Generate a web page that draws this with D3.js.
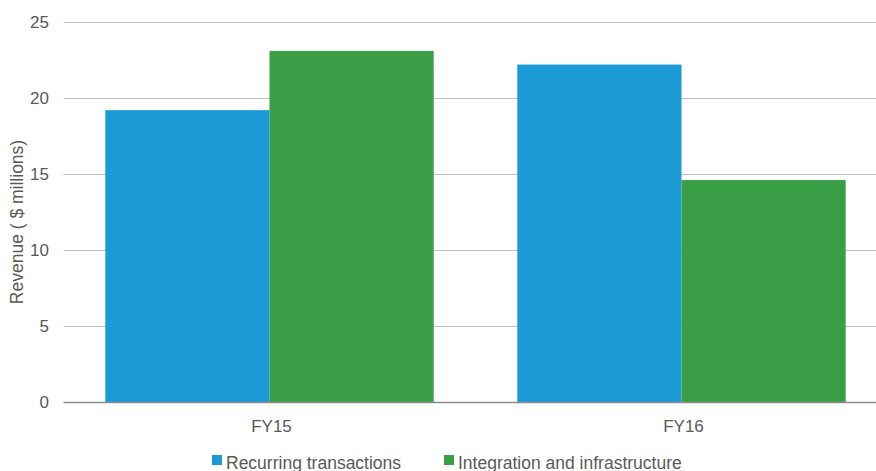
<!DOCTYPE html>
<html>
<head>
<meta charset="utf-8">
<script src="https://cdn.jsdelivr.net/npm/d3@7"></script>
<style>
  html, body { margin: 0; padding: 0; background: #ffffff; }
  svg { display: block; }
  text { font-family: "Liberation Sans", Arial, sans-serif; fill: #595959; }
</style>
</head>
<body>
<svg id="chart" width="876" height="471"></svg>
<script>
// Revenue by fiscal year, split into two revenue streams
const categories = ["FY15", "FY16"];
const seriesNames = ["Recurring transactions", "Integration and infrastructure"];
const recurring = [19.2, 22.2];
const integration = [23.1, 14.6];
const yTicks = [0, 5, 10, 15, 20, 25];
const seriesColors = ["#1b9ad6", "#3a9e47"];

const rows = categories.map((c, i) => ({ category: c, values: [recurring[i], integration[i]] }));

const svg = d3.select("#chart");
const W = 876, H = 471;
const plot = { left: 63.5, right: 887.5, top: 22, bottom: 402 };

const x = d3.scaleBand().domain(categories).range([plot.left, plot.right]).paddingInner(0.203).paddingOuter(0.1015);
const xs = d3.scaleBand().domain(d3.range(seriesNames.length)).range([0, x.bandwidth()]);
const y = d3.scaleLinear().domain([0, 25]).range([plot.bottom, plot.top]);

// horizontal gridlines
svg.append("g").selectAll("line").data(yTicks.filter(t => t > 0)).join("line")
  .attr("x1", plot.left).attr("x2", W)
  .attr("y1", d => Math.round(y(d)) + 0.5).attr("y2", d => Math.round(y(d)) + 0.5)
  .attr("stroke", "#c0c0c0").attr("stroke-width", 1.2);

// bars
const groups = svg.append("g").selectAll("g").data(rows).join("g")
  .attr("transform", d => `translate(${x(d.category)},0)`);
groups.selectAll("rect").data(d => d.values).join("rect")
  .attr("x", (d, i) => xs(i))
  .attr("width", xs.bandwidth())
  .attr("y", d => y(d))
  .attr("height", d => y(0) - y(d))
  .attr("fill", (d, i) => seriesColors[i]);

// baseline
svg.append("line")
  .attr("x1", plot.left).attr("x2", W)
  .attr("y1", y(0) + 0.5).attr("y2", y(0) + 0.5)
  .attr("stroke", "#8c8c8c").attr("stroke-width", 1.5);

// y tick labels
svg.append("g").selectAll("text").data(yTicks).join("text")
  .attr("x", 49).attr("y", d => y(d))
  .attr("dy", "0.35em")
  .attr("text-anchor", "end")
  .attr("font-size", 17)
  .text(d => d);

// x category labels
svg.append("g").selectAll("text").data(categories).join("text")
  .attr("x", d => x(d) + x.bandwidth() / 2 + 2)
  .attr("y", 432)
  .attr("text-anchor", "middle")
  .attr("font-size", 17)
  .text(d => d);

// y axis title
svg.append("text")
  .attr("transform", "translate(23,222) rotate(-90)")
  .attr("text-anchor", "middle")
  .attr("font-size", 17.5)
  .text("Revenue ( $ millions)");

// legend
const legendX = [212, 444];
const legend = svg.append("g").selectAll("g").data(seriesNames).join("g")
  .attr("transform", (d, i) => `translate(${legendX[i]},455)`);
legend.append("rect").attr("width", 10).attr("height", 10).attr("fill", (d, i) => seriesColors[i]);
legend.append("text").attr("x", 14).attr("y", 13.5).attr("font-size", 17.5).text(d => d);
</script>
</body>
</html>
